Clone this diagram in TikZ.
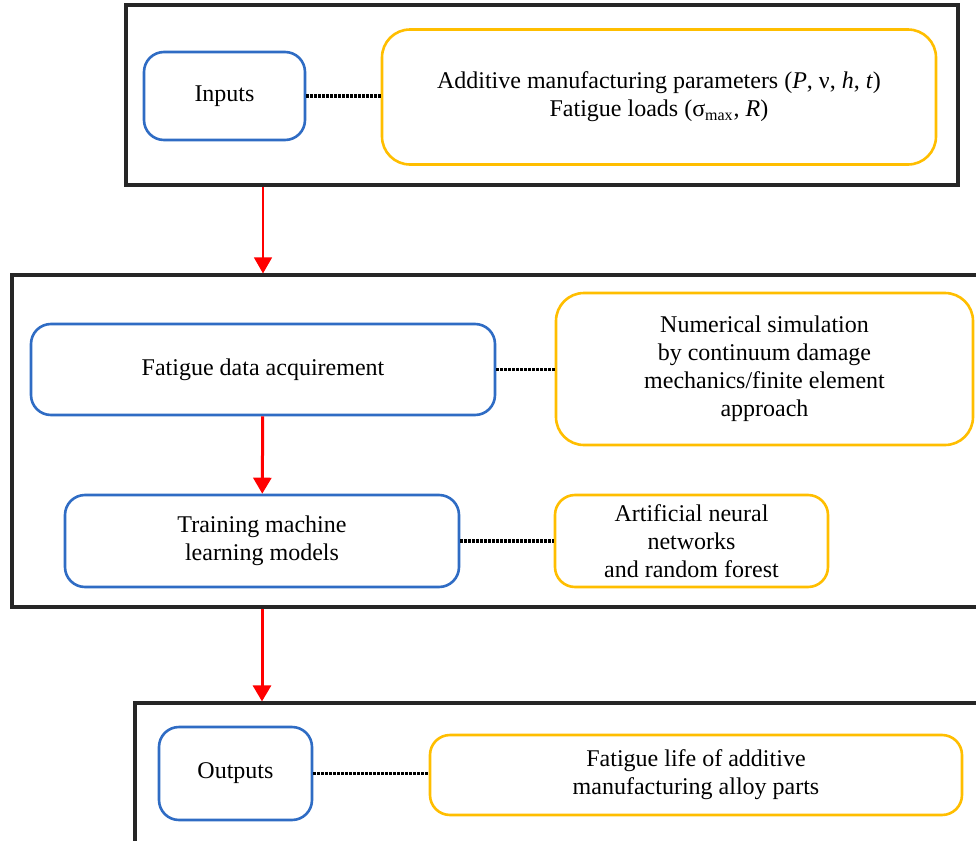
\documentclass[tikz,border=0pt]{standalone}
\usepackage{fontspec}
\setmainfont{Liberation Serif}
\newfontfamily\labelfont{Liberation Serif}
\usepackage{xcolor}
\usepackage{tikz}
\usetikzlibrary{arrows.meta, positioning}

\definecolor{boxblue}{RGB}{47,108,196}
\definecolor{boxgold}{RGB}{255,190,0}

\begin{document}
\begin{tikzpicture}[x=0.5pt, y=-0.5pt,
    font=\labelfont\fontsize{12}{14}\selectfont,
    frame/.style={draw=black!85, line width=1.6pt, inner sep=0pt},
    stage/.style={draw=boxblue, line width=1.3pt, rounded corners=10pt, align=center, inner sep=0pt},
    detail/.style={draw=boxgold, line width=1.3pt, rounded corners=14pt, align=center, inner sep=0pt},
    link/.style={black, line width=1.9pt, dash pattern=on 1.2pt off 0.8pt},
    flow/.style={red, line width=1.5pt, -{Triangle[width=9pt, length=8pt]}}]
    \useasboundingbox (0,0) rectangle (976,841);
    \clip (0,0) rectangle (976,841);
    \fill[white] (0,0) rectangle (976,841);

    % Các khung ngoài
    \node[frame, minimum width=416pt, minimum height=90pt] (topbox) at (542,95) {};
    \node[frame, minimum width=486.5pt, minimum height=166pt] (midbox) at (498.5,441) {};
    \node[frame, minimum width=425pt, minimum height=73.5pt] (botbox) at (560,776.5) {};

    % Đầu vào
    \node[stage, minimum width=80.5pt, minimum height=44pt] (inputs) at (224.5,96) {Inputs};
    \node[detail, minimum width=277pt, minimum height=67.5pt] (params) at (659,97)
        {Additive manufacturing parameters (\textit{P}, ν, \textit{h}, \textit{t})\\
         Fatigue loads (σ\textsubscript{max}, \textit{R})};

    % Xây dựng mô hình
    \node[stage, minimum width=232pt, minimum height=45.5pt] (acquire) at (263,369.5) {Fatigue data acquirement};
    \node[detail, minimum width=208.5pt, minimum height=76pt] (simul) at (764.5,369)
        {Numerical simulation\\ by continuum damage\\ mechanics/finite element\\ approach};
    \node[stage, minimum width=197pt, minimum height=46pt] (train) at (262,541)
        {Training machine\\ learning models};
    \node[detail, minimum width=136.5pt, minimum height=46pt, rounded corners=10pt] (ann) at (691.5,541)
        {Artificial neural\\ networks\\ and random forest};

    % Đầu ra
    \node[stage, minimum width=76.5pt, minimum height=46.5pt] (outputs) at (235.5,773.5) {Outputs};
    \node[detail, minimum width=266pt, minimum height=40pt, rounded corners=10pt] (life) at (696,775)
        {Fatigue life of additive\\ manufacturing alloy parts};

    % Đường nối
    \draw[link] (inputs) -- (params.west |- inputs);
    \draw[link] (acquire) -- (simul.west |- acquire);
    \draw[link] (train) -- (ann);
    \draw[link] (outputs) -- (life.west |- outputs);

    \draw[flow, line width=0.7pt] (acquire.north |- topbox.south) -- (acquire.north |- midbox.north);
    \draw[flow] (acquire) -- (train);
    \draw[flow] (train.south |- midbox.south) -- (train.south |- botbox.north);
\end{tikzpicture}
\end{document}
